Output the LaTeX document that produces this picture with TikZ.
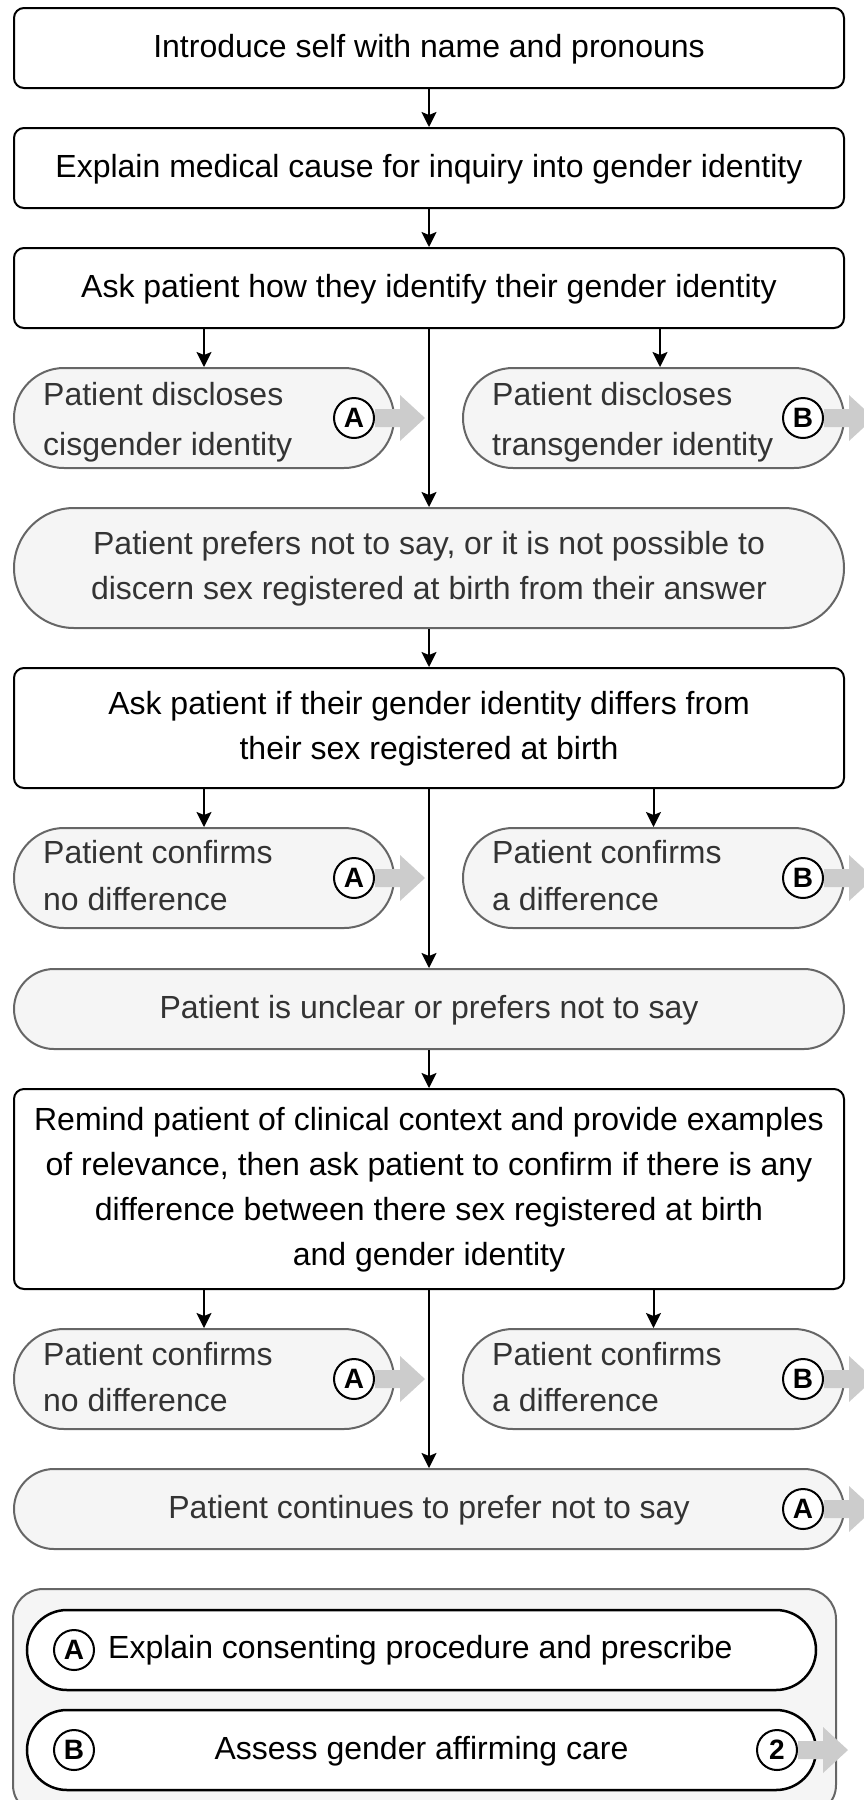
\documentclass[tikz,border=0pt]{standalone}
\usepackage{fontspec}
\setmainfont{Liberation Sans}
\usetikzlibrary{arrows.meta,calc}
\definecolor{pillfill}{HTML}{F5F5F5}
\definecolor{pilldraw}{HTML}{666666}
\definecolor{pilltext}{HTML}{333333}
\definecolor{flowgrey}{HTML}{CCCCCC}
\tikzset{
  mainbox/.style={draw=black,line width=2pt,fill=white,rounded corners=10pt,minimum width=830pt,inner sep=0pt,align=center,text=black,font=\fontsize{32}{45}\selectfont},
  pillbase/.style={draw=pilldraw,line width=2pt,fill=pillfill,inner sep=0pt,text=pilltext},
  sidepill/.style={pillbase,minimum height=100pt,rounded corners=50pt},
  sidetext/.style={anchor=base west,inner sep=0pt,align=left,text=pilltext},
  widepill/.style={pillbase,minimum width=830pt,align=center,font=\fontsize{32}{45}\selectfont},
  legendbox/.style={draw=pilldraw,line width=2pt,fill=pillfill,rounded corners=30pt,inner sep=0pt},
  legenditem/.style={draw=black,line width=2.5pt,fill=white,minimum width=789pt,minimum height=80pt,rounded corners=40pt,inner sep=0pt,font=\fontsize{32}{45}\selectfont,text=black},
  badge/.style={circle,draw=black,line width=2pt,fill=white,minimum size=40pt,inner sep=0pt,font=\bfseries\fontsize{28}{30}\selectfont,text=black},
  conn/.style={draw=black,line width=2pt,-{Stealth[length=15pt,width=15pt,inset=3pt]}},
  exitarrow/.pic={\fill[flowgrey] (21,-9) -- (46,-9) -- (46,-23) -- (71,0) -- (46,23) -- (46,9) -- (21,9) -- cycle;}
}
\begin{document}
\begin{tikzpicture}[x=1pt,y=-1pt]
\useasboundingbox (0,0) rectangle (864,1800);
\clip (0,0) rectangle (864,1800);

% main boxes
\node[mainbox,minimum height=80pt] (b1) at (429,48) {\strut Introduce self with name and pronouns};
\node[mainbox,minimum height=80pt] (b2) at (429,168) {\strut Explain medical cause for inquiry into gender identity};
\node[mainbox,minimum height=80pt] (b3) at (429,288) {\strut Ask patient how they identify their gender identity};

% row 1
\node[sidepill,minimum width=380pt] (r1a) at (204,418) {};
\node[sidepill,minimum width=381pt] (r1b) at (653.5,418) {};
\node[sidetext,font=\fontsize{32}{50}\selectfont] (r1at) at (43,455) {Patient discloses\\cisgender identity};
\node[sidetext,font=\fontsize{32}{50}\selectfont] (r1bt) at (492,455) {Patient discloses\\transgender identity};
\node[widepill,minimum height=120pt,rounded corners=60pt] (r1c) at (429,568) {\strut Patient prefers not to say, or it is not possible to\\discern sex registered at birth from their answer\strut};
\node[badge] (c1a) at (354,418) {A};
\node[badge] (c1b) at (803,418) {B};
\pic at (c1a.center) {exitarrow};
\pic at (c1b.center) {exitarrow};

% question 2
\node[mainbox,minimum height=120pt] (q2) at (429,728) {\strut Ask patient if their gender identity differs from\\their sex registered at birth\strut};

% row 2
\node[sidepill,minimum width=380pt] (r2a) at (204,878) {};
\node[sidepill,minimum width=381pt] (r2b) at (653.5,878) {};
\node[sidetext,font=\fontsize{32}{47}\selectfont] (r2at) at (43,910) {Patient confirms\\no difference};
\node[sidetext,font=\fontsize{32}{47}\selectfont] (r2bt) at (492,910) {Patient confirms\\a difference};
\node[widepill,minimum height=80pt,rounded corners=40pt] (r2c) at (429,1009) {\strut Patient is unclear or prefers not to say};
\node[badge] (c2a) at (354,878) {A};
\node[badge] (c2b) at (803,878) {B};
\pic at (c2a.center) {exitarrow};
\pic at (c2b.center) {exitarrow};

% question 3
\node[mainbox,minimum height=200pt] (q3) at (429,1189) {\strut Remind patient of clinical context and provide examples\\of relevance, then ask patient to confirm if there is any\\difference between there sex registered at birth\\and gender identity\strut};

% row 3
\node[sidepill,minimum width=380pt] (r3a) at (204,1379) {};
\node[sidepill,minimum width=381pt] (r3b) at (653.5,1379) {};
\node[sidetext,font=\fontsize{32}{46}\selectfont] (r3at) at (43,1411) {Patient confirms\\no difference};
\node[sidetext,font=\fontsize{32}{46}\selectfont] (r3bt) at (492,1411) {Patient confirms\\a difference};
\node[widepill,minimum height=80pt,rounded corners=40pt] (r3c) at (429,1509) {\strut Patient continues to prefer not to say};
\node[badge] (c3a) at (354,1379) {A};
\node[badge] (c3b) at (803,1379) {B};
\node[badge] (c3c) at (803,1509) {A};
\pic at (c3a.center) {exitarrow};
\pic at (c3b.center) {exitarrow};
\pic at (c3c.center) {exitarrow};

% legend
\node[legendbox,minimum width=823pt,minimum height=226pt] (legend) at (424.5,1702) {};
\node[legenditem] (la) at (421.5,1650) {};
\node[anchor=base west,inner sep=0pt,font=\fontsize{32}{45}\selectfont,text=black] (lat) at (108,1658) {Explain consenting procedure and prescribe};
\node[legenditem,align=center] (lb) at (421.5,1750) {\strut Assess gender affirming care};
\node[badge] (lca) at (74,1650) {A};
\node[badge] (lcb) at (74,1750) {B};
\node[badge] (lc2) at (777,1750) {2};
\pic at (lc2.center) {exitarrow};

% connectors
\draw[conn] (b1.south) -- (b2.north);
\draw[conn] (b2.south) -- (b3.north);
\draw[conn] (b3.south -| r1a.north) -- (r1a.north);
\draw[conn] ($(b3.south -| r1b.north)+(6.5,0)$) -- ($(r1b.north)+(6.5,0)$);
\draw[conn] (b3.south) -- (r1c.north);
\draw[conn] (r1c.south) -- (q2.north);
\draw[conn] (q2.south -| r2a.north) -- (r2a.north);
\draw[conn] (q2.south -| r2b.north) -- (r2b.north);
\draw[conn] (q2.south) -- (r2c.north);
\draw[conn] (r2c.south) -- (q3.north);
\draw[conn] (q3.south -| r3a.north) -- (r3a.north);
\draw[conn] (q3.south -| r3b.north) -- (r3b.north);
\draw[conn] (q3.south) -- (r3c.north);
\end{tikzpicture}
\end{document}
